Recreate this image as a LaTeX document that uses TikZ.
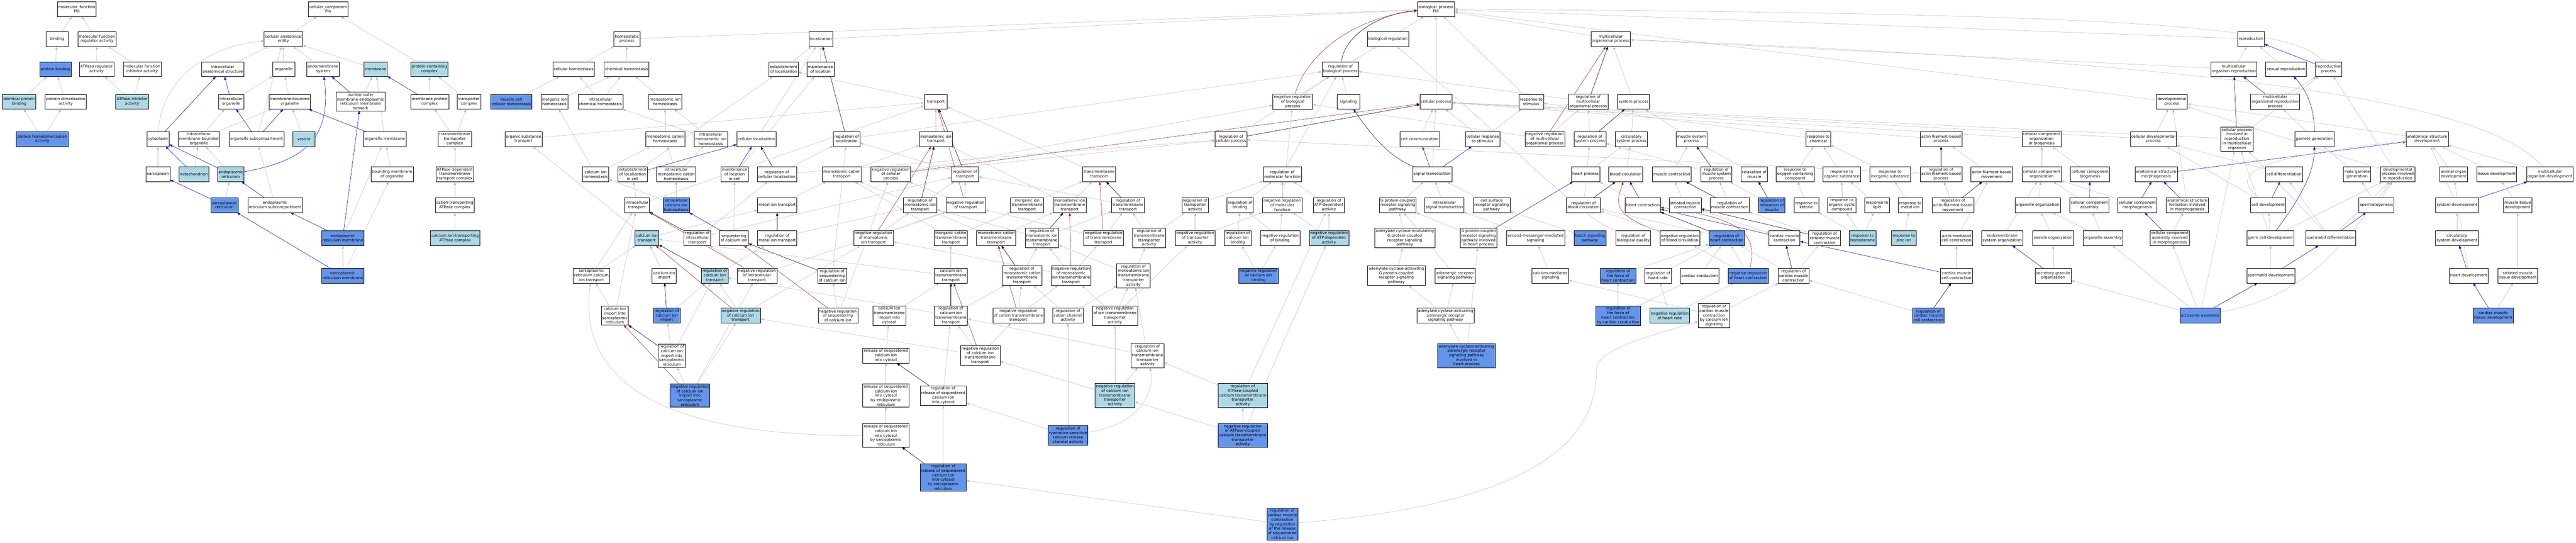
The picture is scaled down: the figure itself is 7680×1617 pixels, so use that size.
\documentclass[tikz,border=0pt]{standalone}
\usepackage{fontspec}
\setmainfont{DejaVu Sans}
\usetikzlibrary{arrows.meta,backgrounds}
\definecolor{dkb}{HTML}{6495ED}
\definecolor{ltb}{HTML}{ADD8E6}
\definecolor{egray}{HTML}{C0C0C0}
\definecolor{ered}{HTML}{B22222}
\newcommand\mknode[5]{\node[#2] (#1) at (#3,#4) {#5};}
\newcommand\mkedge[3]{\draw[#1] (#2) -- (#3);}
\begin{document}
\begin{tikzpicture}[x=1pt,y=-1pt,
  box/.style={draw=black,line width=0.9pt,rectangle,align=center,inner xsep=3pt,inner ysep=3.5pt,
    minimum height=44pt,minimum width=67pt,font=\fontsize{11.5}{13.4}\selectfont},
  W/.style={box,fill=white},
  L/.style={box,fill=ltb},
  D/.style={box,fill=dkb},
  ed/.style={line width=0.9pt,-{Triangle[length=9pt,width=7pt]}},
  g/.style={ed,draw=egray},
  b/.style={ed,draw=blue},
  k/.style={ed,draw=black},
  r/.style={ed,draw=ered}]
\useasboundingbox (0,0) rectangle (7680,1617);
% R1
\mknode{mf}{W}{229}{27}{molecular\_function\\Pln}
\mknode{cc}{W}{978}{27}{cellular\_component\\Pln}
\mknode{bp}{W}{4281}{27}{biological\_process\\Pln}
% R2
\mknode{bind}{W}{170}{116}{binding}
\mknode{mfreg}{W}{289}{116}{molecular function\\regulator activity}
\mknode{cae}{W}{845}{116}{cellular anatomical\\entity}
\mknode{homeo}{W}{1869}{116}{homeostatic\\process}
\mknode{loc}{W}{2447}{116}{localization}
\mknode{breg}{W}{4138}{116}{biological regulation}
\mknode{mop}{W}{4802}{116}{multicellular\\organismal process}
\mknode{repro}{W}{6711}{116}{reproduction}
% R3
\mknode{pbind}{D}{165}{206}{protein binding}
\mknode{atpreg}{W}{288}{206}{ATPase regulator\\activity}
\mknode{mfinh}{W}{424}{206}{molecular function\\inhibitor activity}
\mknode{ias}{W}{664}{206}{intracellular\\anatomical structure}
\mknode{org}{W}{846}{206}{organelle}
\mknode{ems}{W}{963}{206}{endomembrane\\system}
\mknode{memb}{L}{1120}{206}{membrane}
\mknode{pcc}{L}{1280}{206}{protein-containing\\complex}
\mknode{chom}{W}{1710}{206}{cellular homeostasis}
\mknode{chemh}{W}{1868}{206}{chemical homeostasis}
\mknode{estloc}{W}{2336}{206}{establishment\\of localization}
\mknode{mainloc}{W}{2446}{206}{maintenance\\of location}
\mknode{rbp}{W}{3996}{206}{regulation of\\biological process}
\mknode{mor}{W}{6660}{206}{multicellular\\organism reproduction}
\mknode{sexrep}{W}{6815}{206}{sexual reproduction}
\mknode{repproc}{W}{6942}{206}{reproductive\\process}
% R4
\mknode{ipb}{L}{57}{303}{identical protein\\binding}
\mknode{pda}{W}{196}{303}{protein dimerization\\activity}
\mknode{atpinh}{L}{394}{303}{ATPase inhibitor\\activity}
\mknode{iorg}{W}{689}{303}{intracellular\\organelle}
\mknode{mbo}{W}{864}{303}{membrane-bounded\\organelle}
\mknode{nomer}{W}{1075}{302}{nuclear outer\\membrane-endoplasmic\\reticulum membrane\\network}
\mknode{mpc}{W}{1281}{303}{membrane protein\\complex}
\mknode{tc}{W}{1398}{303}{transporter\\complex}
\mknode{mcch}{D}{1524}{303}{muscle cell\\cellular homeostasis}
\mknode{iih}{W}{1653}{303}{inorganic ion\\homeostasis}
\mknode{ich}{W}{1790}{303}{intracellular\\chemical homeostasis}
\mknode{mih}{W}{1983}{303}{monoatomic ion\\homeostasis}
\mknode{transp}{W}{2790}{303}{transport}
\mknode{nrbp}{W}{3854}{303}{negative regulation\\of biological\\process}
\mknode{sig}{W}{4020}{303}{signaling}
\mknode{cp}{W}{4281}{303}{cellular process}
\mknode{rts}{W}{4565}{303}{response to\\stimulus}
\mknode{rmop}{W}{4735}{303}{regulation of\\multicellular\\organismal process}
\mknode{sysp}{W}{4870}{303}{system process}
\mknode{devp}{W}{6475}{303}{developmental\\process}
\mknode{morp}{W}{6783}{303}{multicellular\\organismal reproductive\\process}
% R5
\mknode{phda}{D}{126}{414}{protein homodimerization\\activity}
\mknode{cyto}{W}{471}{414}{cytoplasm}
\mknode{imbo}{W}{593}{414}{intracellular\\membrane-bounded\\organelle}
\mknode{osc}{W}{765}{414}{organelle subcompartment}
\mknode{ves}{L}{906}{414}{vesicle}
\mknode{om}{W}{1147}{414}{organelle membrane}
\mknode{ttc}{W}{1356}{414}{transmembrane\\transporter\\complex}
\mknode{ost}{W}{1561}{414}{organic substance\\transport}
\mknode{mch}{W}{1983}{414}{monoatomic cation\\homeostasis}
\mknode{imih}{W}{2119}{414}{intracellular\\monoatomic ion\\homeostasis}
\mknode{cloc}{W}{2255}{414}{cellular localization}
\mknode{rloc}{W}{2524}{414}{regulation of\\localization}
\mknode{mit}{W}{2790}{414}{monoatomic ion\\transport}
\mknode{rcp}{W}{3670}{414}{regulation of\\cellular process}
\mknode{ccomm}{W}{4233}{414}{cell communication}
\mknode{crts}{W}{4420}{414}{cellular response\\to stimulus}
\mknode{nrmop}{W}{4606}{414}{negative regulation\\of multicellular\\organismal process}
\mknode{rsp}{W}{4740}{414}{regulation of\\system process}
\mknode{csp}{W}{4864}{414}{circulatory\\system process}
\mknode{msp}{W}{5043}{414}{muscle system\\process}
\mknode{rtc}{W}{5421}{414}{response to\\chemical}
\mknode{afbp}{W}{5787}{414}{actin filament-based\\process}
\mknode{ccob}{W}{6087}{414}{cellular component\\organization\\or biogenesis}
\mknode{cdp}{W}{6420}{414}{cellular developmental\\process}
\mknode{cpirm}{W}{6669}{414}{cellular process\\involved in\\reproduction\\in multicellular\\organism}
\mknode{gg}{W}{6900}{414}{gamete generation}
\mknode{asd}{W}{7236}{414}{anatomical structure\\development}
% R6
\mknode{sarco}{W}{471}{519}{sarcoplasm}
\mknode{mito}{L}{578}{519}{mitochondrion}
\mknode{er}{L}{688}{519}{endoplasmic\\reticulum}
\mknode{bmo}{W}{1169}{519}{bounding membrane\\of organelle}
\mknode{atpdtc}{W}{1356}{519}{ATPase dependent\\transmembrane\\transport complex}
\mknode{cih}{W}{1776}{519}{calcium ion\\homeostasis}
\mknode{elic}{W}{1886}{519}{establishment\\of localization\\in cell}
\mknode{imch}{W}{2016}{519}{intracellular\\monoatomic cation\\homeostasis}
\mknode{mlic}{W}{2190}{519}{maintenance\\of location\\in cell}
\mknode{rcl}{W}{2316}{519}{regulation of\\cellular localization}
\mknode{mct}{W}{2510}{519}{monoatomic cation\\transport}
\mknode{nrcp}{W}{2656}{519}{negative regulation\\of cellular\\process}
\mknode{rtr}{W}{2877}{519}{regulation of\\transport}
\mknode{tmt}{W}{3277}{519}{transmembrane\\transport}
\mknode{rmf}{W}{3823}{519}{regulation of\\molecular function}
\mknode{st}{W}{4270}{519}{signal transduction}
\mknode{hp}{W}{4727}{519}{heart process}
\mknode{bc}{W}{4847}{519}{blood circulation}
\mknode{mc}{W}{4984}{519}{muscle contraction}
\mknode{rmsp}{W}{5117}{519}{regulation of\\muscle system\\process}
\mknode{rom}{W}{5230}{519}{relaxation of\\muscle}
\mknode{rtocc}{W}{5352}{519}{response to\\oxygen-containing\\compound}
\mknode{rtos}{W}{5491}{519}{response to\\organic substance}
\mknode{rtis}{W}{5635}{519}{response to\\inorganic substance}
\mknode{rafbp}{W}{5787}{519}{regulation of\\actin filament-based\\process}
\mknode{afbm}{W}{5938}{519}{actin filament-based\\movement}
\mknode{cco}{W}{6087}{519}{cellular component\\organization}
\mknode{ccb}{W}{6231}{519}{cellular component\\biogenesis}
\mknode{asm}{W}{6428}{519}{anatomical structure\\morphogenesis}
\mknode{cdiff}{W}{6809}{519}{cell differentiation}
\mknode{mgg}{W}{7027}{519}{male gamete\\generation}
\mknode{dpir}{W}{7148}{519}{developmental\\process involved\\in reproduction}
\mknode{aod}{W}{7315}{519}{animal organ\\development}
\mknode{td}{W}{7443}{519}{tissue development}
\mknode{mod}{W}{7602}{519}{multicellular\\organism development}
% R7
\mknode{sr}{D}{669}{611}{sarcoplasmic\\reticulum}
\mknode{ersc}{W}{820}{611}{endoplasmic\\reticulum subcompartment}
\mknode{ctac}{W}{1356}{611}{cation-transporting\\ATPase complex}
\mknode{it}{W}{1899}{611}{intracellular\\transport}
\mknode{icih}{D}{2016}{611}{intracellular\\calcium ion\\homeostasis}
\mknode{mitr}{W}{2317}{611}{metal ion transport}
\mknode{rmit}{W}{2743}{611}{regulation of\\monoatomic ion\\transport}
\mknode{nrt}{W}{2879}{611}{negative regulation\\of transport}
\mknode{iitt}{W}{3062}{611}{inorganic ion\\transmembrane\\transport}
\mknode{mitt}{W}{3189}{611}{monoatomic ion\\transmembrane\\transport}
\mknode{rtt}{W}{3363}{611}{regulation of\\transmembrane\\transport}
\mknode{rta}{W}{3563}{611}{regulation of\\transporter\\activity}
\mknode{rbind}{W}{3697}{611}{regulation of\\binding}
\mknode{nrmf}{W}{3823}{611}{negative regulation\\of molecular\\function}
\mknode{ratp}{W}{3962}{611}{regulation of\\ATP-dependent\\activity}
\mknode{gpcr}{W}{4167}{611}{G protein-coupled\\receptor signaling\\pathway}
\mknode{ist}{W}{4306}{611}{intracellular\\signal transduction}
\mknode{csrs}{W}{4447}{611}{cell surface\\receptor signaling\\pathway}
\mknode{rbc}{W}{4721}{611}{regulation of\\blood circulation}
\mknode{hc}{W}{4898}{611}{heart contraction}
\mknode{smc}{W}{5024}{611}{striated muscle\\contraction}
\mknode{rmc}{W}{5157}{611}{regulation of\\muscle contraction}
\mknode{rrom}{D}{5282}{611}{regulation of\\relaxation of\\muscle}
\mknode{rtk}{W}{5385}{611}{response to\\ketone}
\mknode{rtocyc}{W}{5491}{611}{response to\\organic cyclic\\compound}
\mknode{rtl}{W}{5596}{611}{response to\\lipid}
\mknode{rtmi}{W}{5695}{611}{response to\\metal ion}
\mknode{rafbm}{W}{5822}{611}{regulation of\\actin filament-based\\movement}
\mknode{oo}{W}{6075}{611}{organelle organization}
\mknode{cca}{W}{6229}{611}{cellular component\\assembly}
\mknode{ccm}{W}{6372}{611}{cellular component\\morphogenesis}
\mknode{asfm}{W}{6521}{611}{anatomical structure\\formation involved\\in morphogenesis}
\mknode{cdev}{W}{6762}{611}{cell development}
\mknode{sperm}{W}{7085}{611}{spermatogenesis}
\mknode{sysdev}{W}{7325}{611}{system development}
\mknode{mtd}{W}{7506}{611}{muscle tissue\\development}
% R8
\mknode{erm}{D}{1022}{709}{endoplasmic\\reticulum membrane}
\mknode{cictac}{L}{1357}{709}{calcium ion-transporting\\ATPase complex}
\mknode{cit}{L}{1928}{709}{calcium ion\\transport}
\mknode{rit}{W}{2079}{709}{regulation of\\intracellular\\transport}
\mknode{seq}{W}{2188}{709}{sequestering\\of calcium ion}
\mknode{rmitr}{W}{2317}{709}{regulation of\\metal ion transport}
\mknode{nrmit}{W}{2604}{709}{negative regulation\\of monoatomic\\ion transport}
\mknode{ictt}{W}{2835}{709}{inorganic cation\\transmembrane\\transport}
\mknode{mctt}{W}{2970}{709}{monoatomic cation\\transmembrane\\transport}
\mknode{rmitt}{W}{3106}{709}{regulation of\\monoatomic ion\\transmembrane\\transport}
\mknode{nrtt}{W}{3290}{709}{negative regulation\\of transmembrane\\transport}
\mknode{rtta}{W}{3426}{709}{regulation of\\transmembrane\\transporter\\activity}
\mknode{nrta}{W}{3563}{709}{negative regulation\\of transporter\\activity}
\mknode{rcib}{W}{3690}{709}{regulation of\\calcium ion\\binding}
\mknode{nrbind}{W}{3816}{709}{negative regulation\\of binding}
\mknode{nratp}{L}{3962}{709}{negative regulation\\of ATP-dependent\\activity}
\mknode{acmg}{W}{4188}{709}{adenylate cyclase-modulating\\G protein-coupled\\receptor signaling\\pathway}
\mknode{gpcrh}{W}{4408}{709}{G protein-coupled\\receptor signaling\\pathway involved\\in heart process}
\mknode{smms}{W}{4578}{709}{second-messenger-mediated\\signaling}
\mknode{notch}{D}{4740}{709}{Notch signaling\\pathway}
\mknode{rbq}{W}{4869}{709}{regulation of\\biological quality}
\mknode{nrbc}{W}{5008}{709}{negative regulation\\of blood circulation}
\mknode{rhc}{D}{5148}{709}{regulation of\\heart contraction}
\mknode{cmc}{W}{5320}{709}{cardiac muscle\\contraction}
\mknode{rsmc}{W}{5440}{709}{regulation of\\striated muscle\\contraction}
\mknode{rtte}{L}{5553}{709}{response to\\testosterone}
\mknode{rtzi}{L}{5676}{709}{response to\\zinc ion}
\mknode{amcc}{W}{5833}{709}{actin-mediated\\cell contraction}
\mknode{emso}{W}{5969}{709}{endomembrane\\system organization}
\mknode{vo}{W}{6121}{709}{vesicle organization}
\mknode{oa}{W}{6270}{709}{organelle assembly}
\mknode{ccaim}{W}{6469}{709}{cellular component\\assembly involved\\in morphogenesis}
\mknode{gcd}{W}{6769}{709}{germ cell development}
\mknode{sd}{W}{6948}{709}{spermatid differentiation}
\mknode{csd}{W}{7325}{709}{circulatory\\system development}
% R9
\mknode{srm}{D}{1022}{821}{sarcoplasmic\\reticulum membrane}
\mknode{srcit}{W}{1763}{821}{sarcoplasmic\\reticulum calcium\\ion transport}
\mknode{cii}{W}{1980}{821}{calcium ion\\import}
\mknode{rcit}{L}{2131}{821}{regulation of\\calcium ion\\transport}
\mknode{nrit}{W}{2257}{821}{negative regulation\\of intracellular\\transport}
\mknode{rseq}{W}{2481}{821}{regulation of\\sequestering\\of calcium ion}
\mknode{citt}{W}{2835}{821}{calcium ion\\transmembrane\\transport}
\mknode{rmctt}{W}{3047}{821}{regulation of\\monoatomic cation\\transmembrane\\transport}
\mknode{nrmitt}{W}{3193}{821}{negative regulation\\of monoatomic\\ion transmembrane\\transport}
\mknode{rmitta}{W}{3379}{821}{regulation of\\monoatomic ion\\transmembrane\\transporter\\activity}
\mknode{nrcib}{D}{3752}{821}{negative regulation\\of calcium ion\\binding}
\mknode{acag}{W}{4163}{821}{adenylate cyclase-activating\\G protein-coupled\\receptor signaling\\pathway}
\mknode{ars}{W}{4338}{821}{adrenergic receptor\\signaling pathway}
\mknode{cms}{W}{4622}{821}{calcium-mediated\\signaling}
\mknode{rfhc}{D}{4824}{821}{regulation of\\the force of\\heart contraction}
\mknode{rhr}{W}{4943}{821}{regulation of\\heart rate}
\mknode{ccond}{W}{5067}{821}{cardiac conduction}
\mknode{nrhc}{D}{5212}{821}{negative regulation\\of heart contraction}
\mknode{rcmc}{W}{5347}{821}{regulation of\\cardiac muscle\\contraction}
\mknode{cmcc}{W}{5833}{821}{cardiac muscle\\cell contraction}
\mknode{sgo}{W}{6121}{821}{secretory granule\\organization}
\mknode{spd}{W}{6770}{821}{spermatid development}
\mknode{hd}{W}{7360}{821}{heart development}
\mknode{smtd}{W}{7506}{821}{striated muscle\\tissue development}
% R10
\mknode{ciisr}{W}{1833}{940}{calcium ion\\import into\\sarcoplasmic\\reticulum}
\mknode{rcii}{D}{1988}{940}{regulation of\\calcium ion\\import}
\mknode{nrcit}{L}{2208}{940}{negative regulation\\of calcium ion\\transport}
\mknode{nrseq}{W}{2498}{940}{negative regulation\\of sequestering\\of calcium ion}
\mknode{citic}{W}{2651}{940}{calcium ion\\transmembrane\\import into\\cytosol}
\mknode{rcitt}{W}{2835}{940}{regulation of\\calcium ion\\transmembrane\\transport}
\mknode{nrctt}{W}{3036}{940}{negative regulation\\of cation transmembrane\\transport}
\mknode{rcca}{W}{3184}{940}{regulation of\\cation channel\\activity}
\mknode{nritta}{W}{3324}{940}{negative regulation\\of ion transmembrane\\transporter\\activity}
\mknode{aaar}{W}{4310}{940}{adenylate cyclase-activating\\adrenergic receptor\\signaling pathway}
\mknode{rfhccc}{D}{4824}{940}{regulation of\\the force of\\heart contraction\\by cardiac conduction}
\mknode{nrhr}{L}{4978}{940}{negative regulation\\of heart rate}
\mknode{rcmccis}{W}{5110}{940}{regulation of\\cardiac muscle\\contraction\\by calcium ion\\signaling}
\mknode{rcmcc}{D}{5749}{940}{regulation of\\cardiac muscle\\cell contraction}
\mknode{aa}{D}{6559}{940}{acrosome assembly}
\mknode{cmtd}{D}{7433}{940}{cardiac muscle\\tissue development}
% R11
\mknode{rciisr}{W}{2003}{1059}{regulation of\\calcium ion\\import into\\sarcoplasmic\\reticulum}
\mknode{rscic}{W}{2641}{1059}{release of sequestered\\calcium ion\\into cytosol}
\mknode{nrcitt}{W}{2922}{1059}{negative regulation\\of calcium ion\\transmembrane\\transport}
\mknode{rcitta}{W}{3421}{1059}{regulation of\\calcium ion\\transmembrane\\transporter\\activity}
\mknode{aaarh}{D}{4372}{1059}{adenylate cyclase-activating\\adrenergic receptor\\signaling pathway\\involved in\\heart process}
% R12
\mknode{nrciisr}{D}{2057}{1178}{negative regulation\\of calcium ion\\import into\\sarcoplasmic\\reticulum}
\mknode{rscer}{W}{2641}{1178}{release of sequestered\\calcium ion\\into cytosol\\by endoplasmic\\reticulum}
\mknode{rrscic}{W}{2812}{1178}{regulation of\\release of sequestered\\calcium ion\\into cytosol}
\mknode{nrcitta}{L}{3324}{1178}{negative regulation\\of calcium ion\\transmembrane\\transporter\\activity}
\mknode{ratpc}{L}{3705}{1178}{regulation of\\ATPase-coupled\\calcium transmembrane\\transporter\\activity}
% R13
\mknode{rscsr}{W}{2641}{1297}{release of sequestered\\calcium ion\\into cytosol\\by sarcoplasmic\\reticulum}
\mknode{rrcr}{D}{3184}{1297}{regulation of\\ryanodine-sensitive\\calcium-release\\channel activity}
\mknode{nratpc}{D}{3705}{1297}{negative regulation\\of ATPase-coupled\\calcium transmembrane\\transporter\\activity}
% R14
\mknode{rrscsr}{D}{2812}{1422}{regulation of\\release of sequestered\\calcium ion\\into cytosol\\by sarcoplasmic\\reticulum}
% R15
\mknode{rcmcrr}{D}{3823}{1561}{regulation of\\cardiac muscle\\contraction\\by regulation\\of the release\\of sequestered\\calcium ion}

\begin{scope}[on background layer]
\fill[white] (0,0) rectangle (7680,1617);
% molecular function
\mkedge{g}{bind}{mf}\mkedge{g}{mfreg}{mf}\mkedge{g}{pbind}{bind}\mkedge{g}{atpreg}{mfreg}
\mkedge{g}{mfinh}{mfreg}\mkedge{g}{ipb}{pbind}\mkedge{g}{pda}{pbind}\mkedge{g}{atpinh}{atpreg}
\mkedge{g}{atpinh}{mfinh}\mkedge{g}{phda}{ipb}\mkedge{g}{phda}{pda}
% cellular component
\mkedge{g}{cae}{cc}\mkedge{g}{pcc}{cc}\mkedge{g}{ias}{cae}\mkedge{g}{org}{cae}\mkedge{g}{ems}{cae}
\mkedge{g}{memb}{cae}
\draw[g] (cyto) .. controls (480,250) and (600,140) .. (cae);
\mkedge{g}{osc}{cae}
\mkedge{b}{iorg}{ias}\mkedge{g}{iorg}{org}\mkedge{g}{mbo}{org}\mkedge{b}{nomer}{ems}\mkedge{g}{nomer}{memb}
\mkedge{b}{mpc}{memb}\mkedge{g}{mpc}{pcc}\mkedge{g}{tc}{pcc}\mkedge{b}{cyto}{ias}\mkedge{g}{imbo}{iorg}
\mkedge{g}{imbo}{mbo}\mkedge{b}{osc}{iorg}\mkedge{b}{osc}{mbo}\mkedge{g}{ves}{mbo}\mkedge{b}{om}{mbo}
\mkedge{g}{om}{memb}\mkedge{g}{ttc}{mpc}\mkedge{g}{ttc}{tc}\mkedge{g}{sarco}{cyto}\mkedge{b}{mito}{cyto}
\mkedge{g}{mito}{imbo}\mkedge{b}{er}{cyto}\mkedge{g}{er}{imbo}
\draw[b] (er) .. controls (900,480) and (990,420) .. (ems);
\mkedge{g}{bmo}{om}\mkedge{g}{atpdtc}{ttc}\mkedge{b}{sr}{sarco}\mkedge{g}{sr}{er}\mkedge{b}{ersc}{er}
\mkedge{g}{ersc}{osc}\mkedge{g}{ctac}{atpdtc}\mkedge{b}{erm}{ersc}\mkedge{b}{erm}{nomer}\mkedge{g}{erm}{om}
\mkedge{g}{cictac}{ctac}\mkedge{b}{srm}{sr}\mkedge{g}{srm}{erm}\mkedge{g}{srm}{bmo}
% homeostasis / localization
\mkedge{g}{homeo}{bp}\mkedge{g}{loc}{bp}\mkedge{g}{chom}{homeo}\mkedge{g}{chemh}{homeo}
\mkedge{g}{estloc}{loc}\mkedge{g}{mainloc}{loc}\mkedge{g}{mcch}{chom}\mkedge{g}{iih}{chemh}
\mkedge{g}{ich}{chom}\mkedge{g}{ich}{chemh}\mkedge{g}{mih}{chemh}\mkedge{g}{mch}{mih}
\mkedge{g}{imih}{mih}\mkedge{g}{imih}{ich}\mkedge{g}{cloc}{loc}\mkedge{k}{rloc}{loc}\mkedge{g}{rloc}{rbp}
\mkedge{g}{ost}{transp}\mkedge{g}{cih}{iih}\mkedge{g}{cih}{mch}\mkedge{b}{elic}{cloc}\mkedge{g}{elic}{estloc}
\mkedge{g}{imch}{mch}\mkedge{g}{imch}{imih}\mkedge{b}{mlic}{cloc}\mkedge{g}{mlic}{mainloc}
\mkedge{k}{rcl}{cloc}\mkedge{g}{rcl}{rloc}\mkedge{g}{rcl}{rcp}\mkedge{g}{mct}{mit}
\mkedge{g}{it}{elic}\mkedge{g}{it}{transp}\mkedge{g}{icih}{cih}\mkedge{g}{icih}{imch}\mkedge{g}{mitr}{mct}
\mkedge{g}{cit}{mitr}\mkedge{g}{cit}{ost}\mkedge{k}{rit}{it}\mkedge{g}{rit}{rcl}\mkedge{g}{rit}{rtr}
\mkedge{b}{seq}{icih}\mkedge{g}{seq}{mlic}\mkedge{k}{rmitr}{mitr}\mkedge{g}{rmitr}{rmit}
\mkedge{r}{nrmit}{mit}\mkedge{g}{nrmit}{rmit}\mkedge{g}{nrmit}{nrt}
\mkedge{g}{srcit}{cit}\mkedge{g}{srcit}{it}\mkedge{g}{cii}{cit}\mkedge{k}{rcit}{cit}\mkedge{g}{rcit}{rmitr}
\mkedge{r}{nrit}{it}\mkedge{g}{nrit}{rit}\mkedge{g}{nrit}{nrt}\mkedge{k}{rseq}{seq}\mkedge{g}{rseq}{rloc}
\mkedge{g}{ciisr}{srcit}\mkedge{g}{ciisr}{it}\mkedge{k}{rcii}{cii}\mkedge{g}{rcii}{rcit}
\mkedge{r}{nrcit}{cit}\mkedge{g}{nrcit}{rcit}\mkedge{g}{nrcit}{nrmit}
\mkedge{r}{nrseq}{seq}\mkedge{g}{nrseq}{rseq}\mkedge{g}{nrseq}{nrcp}
\mkedge{k}{rciisr}{ciisr}\mkedge{g}{rciisr}{rcit}\mkedge{g}{rciisr}{rcii}
\mkedge{r}{nrciisr}{ciisr}\mkedge{g}{nrciisr}{rciisr}\mkedge{g}{nrciisr}{nrcit}\mkedge{g}{nrciisr}{nrit}
\draw[g] (rscsr) .. controls (2000,1300) and (1720,1150) .. (srcit);
% transport
\mkedge{g}{transp}{estloc}\mkedge{g}{mit}{transp}\mkedge{k}{rtr}{transp}\mkedge{r}{nrt}{transp}
\mkedge{g}{tmt}{transp}\mkedge{r}{nrcp}{cp}\mkedge{g}{nrcp}{rcp}\mkedge{g}{nrcp}{nrbp}
\mkedge{k}{rcp}{cp}\mkedge{g}{rcp}{rbp}\mkedge{k}{rmit}{mit}\mkedge{g}{rmit}{rtr}
\mkedge{g}{nrt}{rtr}\mkedge{g}{nrt}{nrcp}\mkedge{g}{rtr}{rloc}
\mkedge{g}{iitt}{tmt}\mkedge{g}{mitt}{tmt}\mkedge{g}{mitt}{mit}\mkedge{k}{rtt}{tmt}\mkedge{g}{rtt}{rtr}
\mkedge{g}{rta}{rmf}\mkedge{g}{rbind}{rmf}\mkedge{g}{nrmf}{rmf}\mkedge{g}{nrmf}{nrbp}\mkedge{g}{rmf}{rbp}
\mkedge{g}{ratp}{rmf}\mkedge{g}{ictt}{iitt}\mkedge{g}{ictt}{mct}\mkedge{g}{mctt}{mitt}\mkedge{g}{mctt}{mct}
\mkedge{k}{rmitt}{mitt}\mkedge{g}{rmitt}{rtt}\mkedge{g}{rmitt}{rmit}
\mkedge{r}{nrtt}{tmt}\mkedge{g}{nrtt}{rtt}\mkedge{g}{nrtt}{nrt}
\mkedge{g}{rtta}{rtt}\mkedge{g}{rtta}{rta}\mkedge{g}{nrta}{rta}\mkedge{g}{nrta}{nrmf}
\mkedge{g}{rcib}{rbind}\mkedge{g}{nrbind}{rbind}\mkedge{g}{nrbind}{nrmf}
\mkedge{g}{nratp}{ratp}\mkedge{g}{nratp}{nrmf}
\mkedge{g}{citt}{ictt}\mkedge{g}{citt}{cit}\mkedge{k}{rmctt}{mctt}\mkedge{g}{rmctt}{rmitt}
\mkedge{r}{nrmitt}{mitt}\mkedge{g}{nrmitt}{rmitt}\mkedge{g}{nrmitt}{nrtt}\mkedge{g}{nrmitt}{nrmit}
\mkedge{g}{rmitta}{rtta}\mkedge{g}{rmitta}{rmitt}\mkedge{g}{nrcib}{rcib}\mkedge{g}{nrcib}{nrbind}
\mkedge{g}{citic}{citt}\mkedge{k}{rcitt}{citt}\mkedge{g}{rcitt}{rmctt}\mkedge{g}{rcitt}{rcit}
\mkedge{r}{nrctt}{mctt}\mkedge{g}{nrctt}{rmctt}\mkedge{g}{nrctt}{nrmitt}
\mkedge{g}{rcca}{rmitta}\mkedge{g}{rcca}{rmctt}
\mkedge{g}{nritta}{rmitta}\mkedge{g}{nritta}{nrmitt}\mkedge{g}{nritta}{nrta}
\mkedge{g}{rscic}{citic}
\mkedge{r}{nrcitt}{citt}\mkedge{g}{nrcitt}{rcitt}\mkedge{g}{nrcitt}{nrctt}\mkedge{g}{nrcitt}{nrcit}
\mkedge{g}{rcitta}{rcitt}\mkedge{g}{rcitta}{rmitta}\mkedge{g}{rscer}{rscic}
\mkedge{k}{rrscic}{rscic}\mkedge{g}{rrscic}{rcitt}
\mkedge{g}{nrcitta}{rcitta}\mkedge{g}{nrcitta}{nritta}\mkedge{g}{nrcitta}{nrcitt}
\mkedge{g}{ratpc}{rcitta}\mkedge{g}{ratpc}{ratp}\mkedge{g}{rscsr}{rscer}
\mkedge{g}{rrcr}{rcca}\mkedge{g}{rrcr}{rrscic}
\draw[g] (rrcr) .. controls (3420,1260) and (3440,1150) .. (rcitta);
\mkedge{g}{nratpc}{ratpc}\mkedge{g}{nratpc}{nrcitta}\mkedge{g}{nratpc}{nratp}
\mkedge{k}{rrscsr}{rscsr}\mkedge{g}{rrscsr}{rrscic}\mkedge{g}{rcmcrr}{rrscsr}
\draw[g] (rcmcrr) .. controls (4600,1500) and (4760,1300) .. (4760,1100) .. controls (4760,1030) and (5000,980) .. (rcmccis);
% biological process
\mkedge{g}{breg}{bp}
\draw[k] (rbp) .. controls (4010,100) and (4120,40) .. (bp);
\mkedge{g}{rbp}{breg}
\draw[r] (nrbp) .. controls (3900,150) and (4050,50) .. (bp);
\mkedge{g}{nrbp}{rbp}\mkedge{g}{sig}{rbp}\mkedge{g}{cp}{bp}\mkedge{g}{rts}{bp}\mkedge{g}{mop}{bp}
\mkedge{k}{rmop}{mop}\mkedge{g}{rmop}{rbp}\mkedge{g}{sysp}{mop}\mkedge{g}{ccomm}{cp}\mkedge{g}{crts}{cp}
\mkedge{g}{crts}{rts}\mkedge{r}{nrmop}{mop}\mkedge{g}{nrmop}{rmop}\mkedge{g}{nrmop}{nrbp}
\mkedge{g}{rsp}{rmop}\mkedge{k}{rsp}{sysp}\mkedge{g}{csp}{sysp}\mkedge{g}{msp}{sysp}
\draw[b] (st) .. controls (4150,470) and (4100,420) .. (sig);
\mkedge{b}{st}{ccomm}\mkedge{b}{st}{crts}\mkedge{g}{st}{cp}
\mkedge{g}{hp}{csp}\mkedge{g}{bc}{csp}\mkedge{g}{mc}{msp}\mkedge{k}{rmsp}{msp}\mkedge{g}{rmsp}{rsp}
\mkedge{g}{gpcr}{st}\mkedge{g}{ist}{st}\mkedge{g}{csrs}{st}\mkedge{k}{rbc}{bc}\mkedge{g}{rbc}{rsp}
\mkedge{b}{hc}{bc}\mkedge{g}{hc}{hp}\mkedge{g}{smc}{mc}\mkedge{k}{rmc}{mc}\mkedge{g}{rmc}{rmsp}
\mkedge{g}{acmg}{gpcr}\mkedge{g}{gpcrh}{gpcr}\mkedge{b}{gpcrh}{hp}\mkedge{g}{smms}{ist}
\mkedge{g}{notch}{csrs}
\draw[g] (rbq) .. controls (4700,640) and (4500,420) .. (breg);
\draw[r] (nrbc) .. controls (4800,640) and (4820,600) .. (bc);
\mkedge{g}{nrbc}{rbc}
\mkedge{k}{rhc}{hc}\mkedge{g}{rhc}{rbc}\mkedge{b}{cmc}{hc}\mkedge{g}{cmc}{smc}\mkedge{k}{rsmc}{smc}
\mkedge{g}{rsmc}{rmc}\mkedge{g}{rom}{msp}\mkedge{k}{rrom}{rom}\mkedge{g}{rrom}{rmsp}
\mkedge{g}{rtc}{rts}\mkedge{g}{rtocc}{rtc}\mkedge{g}{rtos}{rtc}\mkedge{g}{rtis}{rtc}
\mkedge{g}{afbp}{cp}\mkedge{k}{rafbp}{afbp}\mkedge{g}{rafbp}{rcp}\mkedge{g}{afbm}{afbp}
\mkedge{g}{ccob}{cp}\mkedge{g}{cco}{ccob}\mkedge{g}{ccb}{ccob}
\mkedge{g}{rtk}{rtocc}\mkedge{g}{rtocyc}{rtos}\mkedge{g}{rtl}{rtos}\mkedge{g}{rtmi}{rtis}
\mkedge{k}{rafbm}{afbm}\mkedge{g}{rafbm}{rafbp}\mkedge{g}{oo}{cco}\mkedge{b}{cca}{ccb}\mkedge{g}{cca}{cco}
\mkedge{g}{ccm}{cco}\mkedge{b}{ccm}{asm}\mkedge{g}{rtte}{rtk}\mkedge{g}{rtte}{rtocyc}\mkedge{g}{rtte}{rtl}
\mkedge{g}{rtzi}{rtmi}\mkedge{g}{amcc}{afbm}\mkedge{g}{emso}{cco}\mkedge{g}{vo}{oo}\mkedge{g}{oa}{oo}
\mkedge{g}{oa}{cca}\mkedge{g}{acag}{acmg}\mkedge{g}{ars}{gpcr}\mkedge{g}{cms}{smms}
\mkedge{g}{rfhc}{rhc}\mkedge{g}{rhr}{rhc}\mkedge{g}{ccond}{rhc}\mkedge{g}{nrhc}{rhc}
\draw[r] (nrhc) .. controls (5240,700) and (5200,650) .. (hc);
\mkedge{g}{nrhc}{nrbc}
\mkedge{k}{rcmc}{cmc}\mkedge{g}{rcmc}{rsmc}\mkedge{g}{rcmc}{rhc}
\mkedge{b}{cmcc}{cmc}\mkedge{g}{cmcc}{amcc}\mkedge{b}{sgo}{emso}\mkedge{g}{sgo}{vo}
\mkedge{g}{aaar}{acag}\mkedge{g}{aaar}{ars}\mkedge{g}{rfhccc}{rfhc}\mkedge{g}{rfhccc}{ccond}
\mkedge{g}{nrhr}{rhr}\mkedge{g}{nrhr}{nrhc}\mkedge{g}{rcmccis}{rcmc}\mkedge{g}{rcmccis}{cms}
\mkedge{k}{rcmcc}{cmcc}\mkedge{g}{rcmcc}{rcmc}\mkedge{g}{aaarh}{aaar}\mkedge{g}{aaarh}{gpcrh}
% development / reproduction
\mkedge{g}{repro}{bp}\mkedge{g}{mor}{repro}\mkedge{g}{mor}{mop}\mkedge{g}{sexrep}{repro}
\mkedge{b}{repproc}{repro}
\draw[g] (repproc) .. controls (6850,80) and (6400,40) .. (bp);
\mkedge{g}{devp}{bp}\mkedge{b}{morp}{mor}\mkedge{g}{morp}{repproc}\mkedge{b}{cpirm}{mor}
\mkedge{g}{cpirm}{repproc}\mkedge{g}{cpirm}{cp}
\draw[b] (gg) .. controls (6900,300) and (6860,250) .. (sexrep);
\mkedge{g}{gg}{morp}\mkedge{g}{asd}{devp}\mkedge{g}{cdp}{devp}\mkedge{g}{cdp}{cp}\mkedge{b}{asm}{asd}
\mkedge{g}{cdiff}{cdp}\mkedge{g}{mgg}{gg}\mkedge{g}{dpir}{repproc}\mkedge{g}{dpir}{devp}
\mkedge{g}{aod}{asd}\mkedge{g}{td}{asd}\mkedge{g}{mod}{asd}
\draw[g] (mod) .. controls (7450,350) and (7000,200) .. (mop);
\mkedge{g}{asfm}{devp}\mkedge{b}{asfm}{asm}\mkedge{b}{cdev}{cdiff}\mkedge{g}{cdev}{cdp}
\draw[g] (cdev) .. controls (6650,520) and (6700,470) .. (asd);
\mkedge{g}{sperm}{mgg}\mkedge{g}{sperm}{dpir}\mkedge{g}{sysdev}{asd}\mkedge{b}{sysdev}{mod}\mkedge{g}{mtd}{td}
\mkedge{b}{ccaim}{ccm}\mkedge{g}{ccaim}{asfm}\mkedge{g}{gcd}{cdev}
\draw[b] (gcd) .. controls (6850,600) and (6900,520) .. (gg);
\mkedge{g}{gcd}{dpir}\mkedge{g}{gcd}{cpirm}
\mkedge{b}{sd}{sperm}\mkedge{g}{sd}{cdiff}\mkedge{g}{sd}{cpirm}\mkedge{g}{sd}{dpir}\mkedge{g}{csd}{sysdev}
\mkedge{b}{spd}{sd}\mkedge{g}{spd}{gcd}\mkedge{b}{hd}{csd}\mkedge{g}{hd}{aod}\mkedge{g}{smtd}{mtd}
\mkedge{b}{aa}{spd}\mkedge{g}{aa}{ccaim}\mkedge{g}{aa}{cpirm}
\draw[g] (aa) .. controls (6900,880) and (7000,700) .. (dpir);
\mkedge{g}{aa}{oa}\mkedge{g}{aa}{sgo}
\mkedge{b}{cmtd}{hd}\mkedge{g}{cmtd}{smtd}
\end{scope}
\end{tikzpicture}
\end{document}
